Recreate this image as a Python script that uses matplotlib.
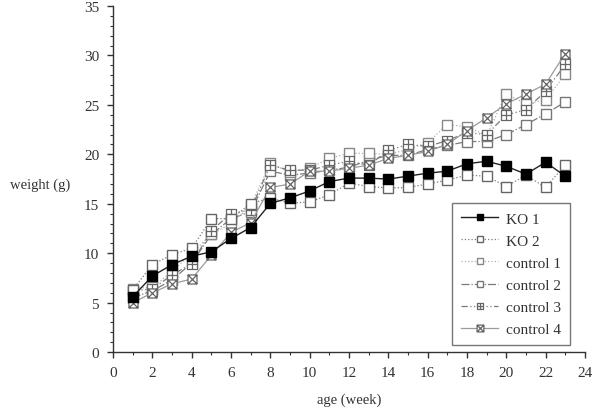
import matplotlib.pyplot as plt
from matplotlib.path import Path
from matplotlib.ticker import MultipleLocator

# age in weeks
weeks = list(range(1, 24))

# body weight (g)
ko1 = [5.6, 7.7, 8.85, 9.7, 10.15, 11.5, 12.6, 15.05, 15.6, 16.3, 17.25, 17.6,
       17.6, 17.5, 17.8, 18.1, 18.3, 19.05, 19.3, 18.8, 18.0, 19.2, 17.8]
ko2 = [6.3, 8.85, 9.85, 10.5, 13.5, 13.5, 15.0, 15.6, 15.05, 15.2, 15.9, 17.1,
       16.75, 16.6, 16.65, 17.0, 17.4, 17.9, 17.8, 16.75, 17.9, 16.65, 18.95]
control1 = [6.4, 6.6, 8.1, 10.0, 11.9, 13.0, 14.8, 19.1, 18.2, 18.6, 19.6, 20.1,
            20.1, 20.0, 20.5, 21.2, 23.0, 22.8, 21.9, 26.1, 25.1, 25.5, 28.1]
control2 = [5.5, 6.2, 7.3, 9.0, 11.9, 13.5, 14.2, 18.3, 17.9, 18.1, 18.4, 18.7,
            19.4, 19.9, 19.9, 20.5, 20.9, 21.3, 21.3, 22.0, 23.0, 24.1, 25.3]
control3 = [6.2, 6.4, 7.8, 8.95, 12.3, 14.0, 14.4, 18.9, 18.4, 18.4, 18.9, 19.3,
            18.9, 20.4, 21.0, 20.8, 21.4, 22.2, 22.0, 24.0, 24.5, 26.4, 29.1]
control4 = [5.0, 6.0, 6.9, 7.4, 9.8, 12.1, 13.1, 16.65, 17.0, 18.3, 18.3, 18.6,
            18.9, 19.6, 19.9, 20.3, 21.0, 22.4, 23.7, 25.1, 26.1, 27.1, 30.2]

labels = ['KO 1', 'KO 2', 'control 1', 'control 2', 'control 3', 'control 4']


# 方框里带十字 / 带叉的标记
def boxed(inner):
    verts = [(-1, -1), (1, -1), (1, 1), (-1, 1), (-1, -1)]
    codes = [Path.MOVETO] + [Path.LINETO] * 3 + [Path.CLOSEPOLY]
    for a, b in inner:
        verts += [a, b]
        codes += [Path.MOVETO, Path.LINETO]
    return Path(verts, codes)


plus_box = boxed([((-1, 0), (1, 0)), ((0, -1), (0, 1))])
cross_box = boxed([((-1, -1), (1, 1)), ((-1, 1), (1, -1))])

plt.rcParams['font.family'] = ['Liberation Serif', 'DejaVu Serif']

fig = plt.figure(figsize=(5.95, 4.14), dpi=100)
ax = fig.add_axes([0.19, 0.147, 0.793, 0.836])

ms = 6.5
gray = '#7a7a7a'
ax.plot(weeks, ko1, color='#222222', lw=1.0, ls='-', marker='s', ms=ms,
        mfc='black', mec='black', label=labels[0], zorder=8)
ax.plot(weeks, ko2, color=gray, lw=0.9, ls=':', marker='s', ms=ms,
        mfc='white', mec='#666666', label=labels[1], zorder=7)
ax.plot(weeks, control1, color='#b0b0b0', lw=0.9, ls=':', marker='s', ms=ms,
        mfc='white', mec='#888888', label=labels[2], zorder=5)
ax.plot(weeks, control2, color=gray, lw=0.9, ls='-.', marker='s', ms=ms,
        mfc='white', mec='#777777', label=labels[3], zorder=4)
ax.plot(weeks, control3, color=gray, lw=0.9, ls=(0, (5, 2, 1, 2, 1, 2)),
        marker=plus_box, ms=ms, mfc='white', mec='#666666', mew=0.9,
        label=labels[4], zorder=6)
ax.plot(weeks, control4, color='#9a9a9a', lw=0.9, ls='-', marker=cross_box,
        ms=ms, mfc='white', mec='#666666', mew=0.9, label=labels[5], zorder=6)

ax.set_xlim(0, 24)
ax.set_ylim(0, 35)
ax.xaxis.set_major_locator(MultipleLocator(2))
ax.xaxis.set_minor_locator(MultipleLocator(1))
ax.yaxis.set_major_locator(MultipleLocator(5))
ax.yaxis.set_minor_locator(MultipleLocator(1))
ax.spines['top'].set_visible(False)
ax.spines['right'].set_visible(False)
for s in ('left', 'bottom'):
    ax.spines[s].set_color('#333333')
    ax.spines[s].set_linewidth(1.0)
ax.tick_params(which='major', direction='out', length=4, width=1.0,
               color='#333333', labelsize=11, labelcolor='#333333')
ax.tick_params(axis='x', which='major', pad=6)
ax.tick_params(axis='y', which='major', pad=6)
ax.tick_params(which='minor', direction='out', length=2.5, width=0.8,
               color='#333333')

ax.set_xlabel('age (week)', fontsize=10.5, color='#333333')
ax.xaxis.set_label_coords(0.5, -0.116)
ax.set_ylabel('weight (g)', fontsize=10.5, color='#333333', rotation=0,
              ha='center', va='center')
ax.yaxis.set_label_coords(-0.155, 0.486)

leg = ax.legend(loc='lower right', bbox_to_anchor=(0.968, 0.02), fontsize=11,
                frameon=True, fancybox=False, edgecolor='#555555',
                handlelength=2.4, labelspacing=0.55, borderpad=0.6,
                handletextpad=0.5, markerscale=0.75, borderaxespad=0)
leg.get_frame().set_linewidth(1.0)
for t in leg.get_texts():
    t.set_color('#333333')

fig.savefig('out.png', dpi=100)
